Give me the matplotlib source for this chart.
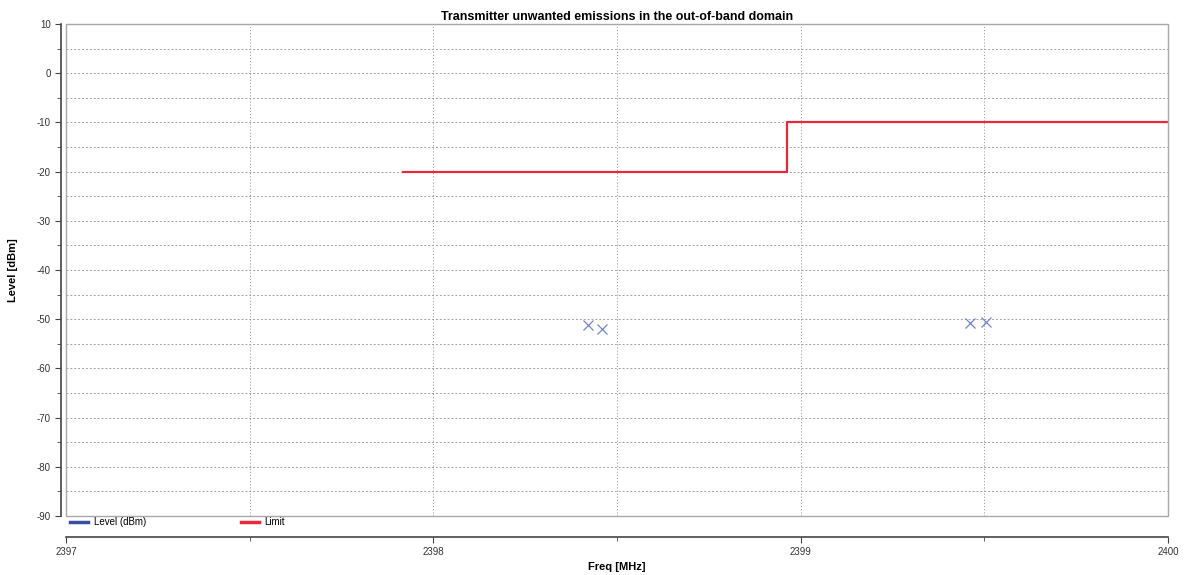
import matplotlib
matplotlib.use("Agg")
from matplotlib import pyplot as plt
from matplotlib.patches import Rectangle
from matplotlib.ticker import MultipleLocator
from matplotlib.lines import Line2D

plt.rcParams["font.family"] = ["Liberation Sans", "DejaVu Sans"]
plt.rcParams["axes.unicode_minus"] = False

limit_freq = [2397.918, 2398.962, 2398.962, 2400.0]
limit_level = [-20, -20, -10, -10]
meas_freq = [2398.42, 2398.46, 2399.46, 2399.504]
meas_level = [-51.2, -52.0, -50.8, -50.6]

fig = plt.figure(figsize=(11.88, 5.75), dpi=100)
ax = fig.add_axes([0.0556, 0.1026, 0.9276, 0.8557])

ax.plot(limit_freq, limit_level, color="#e8283c", lw=1.6, zorder=3)
ax.plot(meas_freq, meas_level, ls="none", marker="x", ms=7, mew=0.9,
        color="#7886c8", zorder=3)

ax.set_xlim(2397, 2400)
ax.set_ylim(-90, 10)
ax.xaxis.set_major_locator(MultipleLocator(1))
ax.xaxis.set_minor_locator(MultipleLocator(0.5))
ax.yaxis.set_major_locator(MultipleLocator(10))
ax.yaxis.set_minor_locator(MultipleLocator(5))
ax.xaxis.set_major_formatter(plt.FuncFormatter(lambda v, p: "%d" % v))

ax.grid(True, which="both", axis="y", color="#a0a0a0", ls=(0, (2, 2)), lw=0.7)
ax.grid(True, which="both", axis="x", color="#a0a0a0", ls=(0, (1.2, 2)), lw=0.7)

for s in ["top", "right"]:
    ax.spines[s].set_visible(False)
ax.spines["bottom"].set_position(("outward", 15))
ax.spines["left"].set_position(("outward", 3.6))
for s in ["bottom", "left"]:
    ax.spines[s].set_color("#444444")
    ax.spines[s].set_linewidth(1.2)
ax.add_patch(Rectangle((0, 0), 1, 1, transform=ax.transAxes, fill=False,
                       ec="#a8a8a8", lw=1.0, clip_on=False, zorder=4))

ax.tick_params(axis="both", which="both", colors="#444444", labelcolor="#333333",
               labelsize=7)
ax.tick_params(axis="both", which="major", length=4)
ax.tick_params(axis="both", which="minor", length=3)
ax.tick_params(axis="x", pad=3)

ax.set_title("Transmitter unwanted emissions in the out-of-band domain",
             fontsize=9, fontweight="bold", pad=3)
ax.set_xlabel("Freq [MHz]", fontsize=8, fontweight="bold")
ax.set_ylabel("Level [dBm]", fontsize=8, fontweight="bold")
ax.xaxis.set_label_coords(0.5, -0.094)
ax.yaxis.set_label_coords(-0.0436, 0.5)

handles = [Line2D([], [], color="#3a4ea6", lw=2.5),
           Line2D([], [], color="#e8283c", lw=2.5)]
ax.legend(handles, ["Level (dBm)", "Limit"], loc="upper left", ncol=2,
          frameon=False, fontsize=7, handlelength=1.8, columnspacing=9.8,
          bbox_to_anchor=(0.003, 0.0), handletextpad=0.6, borderaxespad=0.0,
          borderpad=0.1)

fig.savefig("out.png", dpi=100)
